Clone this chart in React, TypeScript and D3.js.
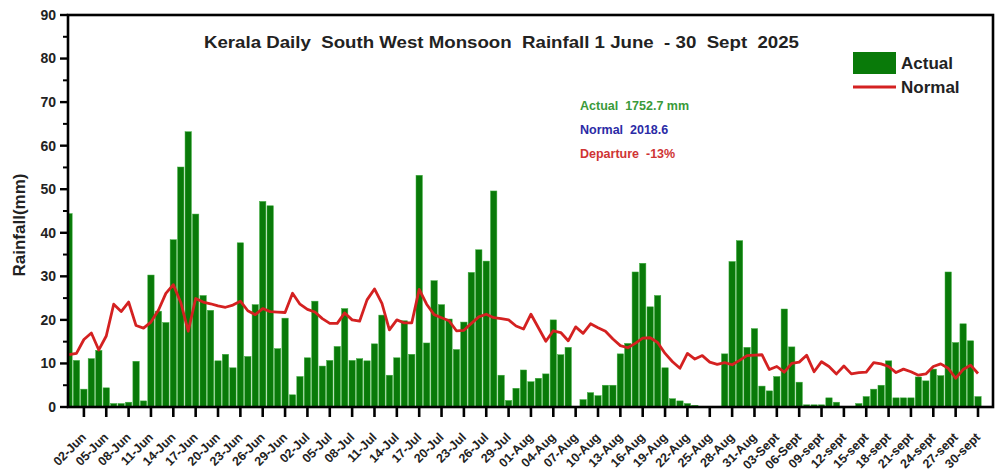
import * as d3 from "d3";

// daily rainfall (mm), one value per day
const actualRain = [
  44.4, 10.7, 4.1, 11.1, 13.0, 4.4, 0.8, 0.8, 1.1, 10.5, 1.4, 30.3, 22.0, 19.4, 38.4, 55.1, 63.2, 44.3, 25.6, 22.2,
  10.6, 12.1, 9.0, 37.7, 11.6, 23.5, 47.2, 46.2, 13.4, 20.4, 2.8, 7.0, 11.3, 24.3, 9.4, 10.7, 13.9, 22.6, 10.7, 11.1,
  10.6, 14.5, 21.1, 7.3, 11.3, 19.8, 12.1, 53.2, 14.7, 29.0, 23.5, 20.2, 13.2, 19.5, 30.9, 36.1, 33.5, 49.6, 7.3, 1.5,
  4.3, 8.5, 5.8, 6.6, 7.6, 20.0, 12.0, 13.7, 0, 1.7, 3.3, 2.6, 5.0, 5.0, 12.2, 14.6, 31.0, 33.0, 23.0, 25.6,
  9.0, 1.9, 1.4, 0.8, 0.4, 0.1, 0, 0, 12.2, 33.4, 38.2, 13.7, 18.0, 4.8, 3.7, 7.0, 22.5, 13.8, 5.7, 0.5,
  0.5, 0.5, 2.1, 1.1, 0, 0, 0.8, 2.4, 4.1, 5.0, 10.6, 2.1, 2.1, 2.1, 6.9, 6.0, 8.7, 7.2, 31.0, 14.8,
  19.1, 15.2, 2.4,
];

const normalRain = [
  12.0, 12.3, 15.5, 17.0, 13.1, 16.3, 23.6, 21.9, 24.1, 18.7, 18.1, 19.5, 22.2, 26.1, 28.1, 24.0, 17.4, 24.9, 24.1, 23.7,
  23.2, 22.9, 23.4, 24.3, 22.1, 21.2, 22.6, 21.9, 21.8, 21.7, 26.1, 23.6, 22.4, 21.8, 20.3, 19.2, 19.2, 21.6, 20.0, 19.7,
  24.6, 27.1, 23.8, 17.7, 20.0, 19.3, 19.3, 27.0, 23.6, 21.2, 20.5, 19.8, 17.5, 17.6, 19.2, 20.7, 21.3, 20.5, 20.3, 20.0,
  18.6, 17.9, 21.3, 18.2, 15.1, 17.5, 17.1, 15.2, 18.4, 16.9, 19.1, 18.2, 17.4, 15.6, 14.1, 13.6, 14.6, 15.8, 15.9, 14.8,
  12.3, 10.4, 8.9, 12.3, 11.0, 11.8, 10.3, 9.8, 10.2, 9.7, 10.7, 11.8, 11.9, 12.0, 8.6, 9.3, 8.0, 10.0, 10.3, 11.9,
  8.1, 10.4, 9.3, 7.6, 9.4, 7.6, 7.9, 8.0, 10.2, 9.9, 9.3, 7.9, 8.7, 8.1, 7.3, 7.6, 9.3, 9.9, 8.9, 6.6,
  8.6, 9.6, 7.7,
];

const tickLabels = [
  "02-Jun", "05-Jun", "08-Jun", "11-Jun", "14-Jun", "17-Jun", "20-Jun", "23-Jun", "26-Jun", "29-Jun",
  "02-Jul", "05-Jul", "08-Jul", "11-Jul", "14-Jul", "17-Jul", "20-Jul", "23-Jul", "26-Jul", "29-Jul",
  "01-Aug", "04-Aug", "07-Aug", "10-Aug", "13-Aug", "16-Aug", "19-Aug", "22-Aug", "25-Aug", "28-Aug", "31-Aug",
  "03-Sept", "06-Sept", "09-sept", "12-sept", "15-sept", "18-sept", "21-sept", "24-sept", "27-sept", "30-sept",
];
const FIRST_TICK = 2;
const TICK_EVERY = 3;

const statLines = [
  { text: "Actual  1752.7 mm", color: "#3a9a3a" },
  { text: "Normal  2018.6", color: "#2b2ba6" },
  { text: "Departure  -13%", color: "#cf3434" },
];

const WIDTH = 997;
const HEIGHT = 476;
const PLOT = { left: 68, right: 993, top: 15, bottom: 407 };
const FONT = "Arial, 'Liberation Sans', sans-serif";
const BAR_GREEN = "#097a09";
const LINE_RED = "#d42121";

export default function App() {
  const x = d3.scaleLinear().domain([0, actualRain.length - 1]).range([69, 978]);
  const y = d3.scaleLinear().domain([0, 90]).range([PLOT.bottom, PLOT.top]);
  const step = x(1) - x(0);
  const barWidth = step - 1.1;
  const line = d3
    .line<number>()
    .x((_, i) => x(i))
    .y((d) => y(d));
  const majorY = d3.range(0, 91, 10);
  const minorY = d3.range(5, 90, 10);

  return (
    <svg width={WIDTH} height={HEIGHT} viewBox={`0 0 ${WIDTH} ${HEIGHT}`} style={{ display: "block", background: "#fff" }}>
      <style>{`body{margin:0}`}</style>
      <defs>
        <clipPath id="plot-clip">
          <rect x={PLOT.left} y={PLOT.top} width={PLOT.right - PLOT.left} height={PLOT.bottom - PLOT.top} />
        </clipPath>
      </defs>

      <g clipPath="url(#plot-clip)">
        {actualRain.map((value, i) => (
          <rect
            key={i}
            x={x(i) - barWidth / 2}
            y={y(value)}
            width={barWidth}
            height={PLOT.bottom - y(value)}
            fill={BAR_GREEN}
            stroke="#3fae3f"
            strokeWidth={0.5}
          />
        ))}
        <path d={line(normalRain) ?? undefined} fill="none" stroke={LINE_RED} strokeWidth={2.8} strokeLinejoin="round" />
      </g>

      {/* frame */}
      <rect
        x={PLOT.left}
        y={PLOT.top}
        width={PLOT.right - PLOT.left}
        height={PLOT.bottom - PLOT.top}
        fill="none"
        stroke="#000"
        strokeWidth={2.6}
      />

      {/* y axis */}
      {majorY.map((t) => (
        <g key={t}>
          <line x1={PLOT.left - 8} x2={PLOT.left} y1={y(t)} y2={y(t)} stroke="#000" strokeWidth={2.4} />
          <text x={56} y={y(t)} dy="0.35em" textAnchor="end" fontFamily={FONT} fontSize={14} fontWeight={700} fill="#222">
            {t}
          </text>
        </g>
      ))}
      {minorY.map((t) => (
        <line key={t} x1={PLOT.left - 5} x2={PLOT.left} y1={y(t)} y2={y(t)} stroke="#000" strokeWidth={2} />
      ))}
      <text
        transform={`translate(25 ${(PLOT.top + PLOT.bottom) / 2 + 14}) rotate(-90)`}
        textAnchor="middle"
        fontFamily={FONT}
        fontSize={17}
        fontWeight={700}
        fill="#222"
      >
        Rainfall(mm)
      </text>

      {/* x axis */}
      {tickLabels.map((label, k) => {
        const tx = x(FIRST_TICK + k * TICK_EVERY);
        return (
          <g key={label}>
            <line x1={tx} x2={tx} y1={PLOT.bottom} y2={PLOT.bottom + 10} stroke="#000" strokeWidth={2.6} />
            <text
              transform={`translate(${tx + 3} ${PLOT.bottom + 31}) rotate(-45)`}
              textAnchor="end"
              fontFamily={FONT}
              fontSize={12.5}
              fontWeight={700}
              fill="#222"
            >
              {label}
            </text>
          </g>
        );
      })}

      {/* title */}
      <text
        x={204}
        y={48}
        fontFamily={FONT}
        fontSize={16.5}
        fontWeight={700}
        fill="#222"
        textLength={595}
        lengthAdjust="spacingAndGlyphs"
        style={{ whiteSpace: "pre" }}
      >
        {"Kerala Daily  South West Monsoon  Rainfall 1 June  - 30  Sept  2025"}
      </text>

      {/* stats */}
      {statLines.map((s, i) => (
        <text
          key={s.text}
          x={580}
          y={110 + i * 24}
          fontFamily={FONT}
          fontSize={12.5}
          fontWeight={700}
          fill={s.color}
          style={{ whiteSpace: "pre" }}
        >
          {s.text}
        </text>
      ))}

      {/* legend */}
      <rect x={853} y={52} width={43} height={22} fill={BAR_GREEN} />
      <text x={901} y={69} fontFamily={FONT} fontSize={17} fontWeight={700} fill="#222">
        Actual
      </text>
      <line x1={853} x2={896} y1={87} y2={87} stroke={LINE_RED} strokeWidth={2.8} />
      <text x={901} y={93} fontFamily={FONT} fontSize={17} fontWeight={700} fill="#222">
        Normal
      </text>
    </svg>
  );
}
